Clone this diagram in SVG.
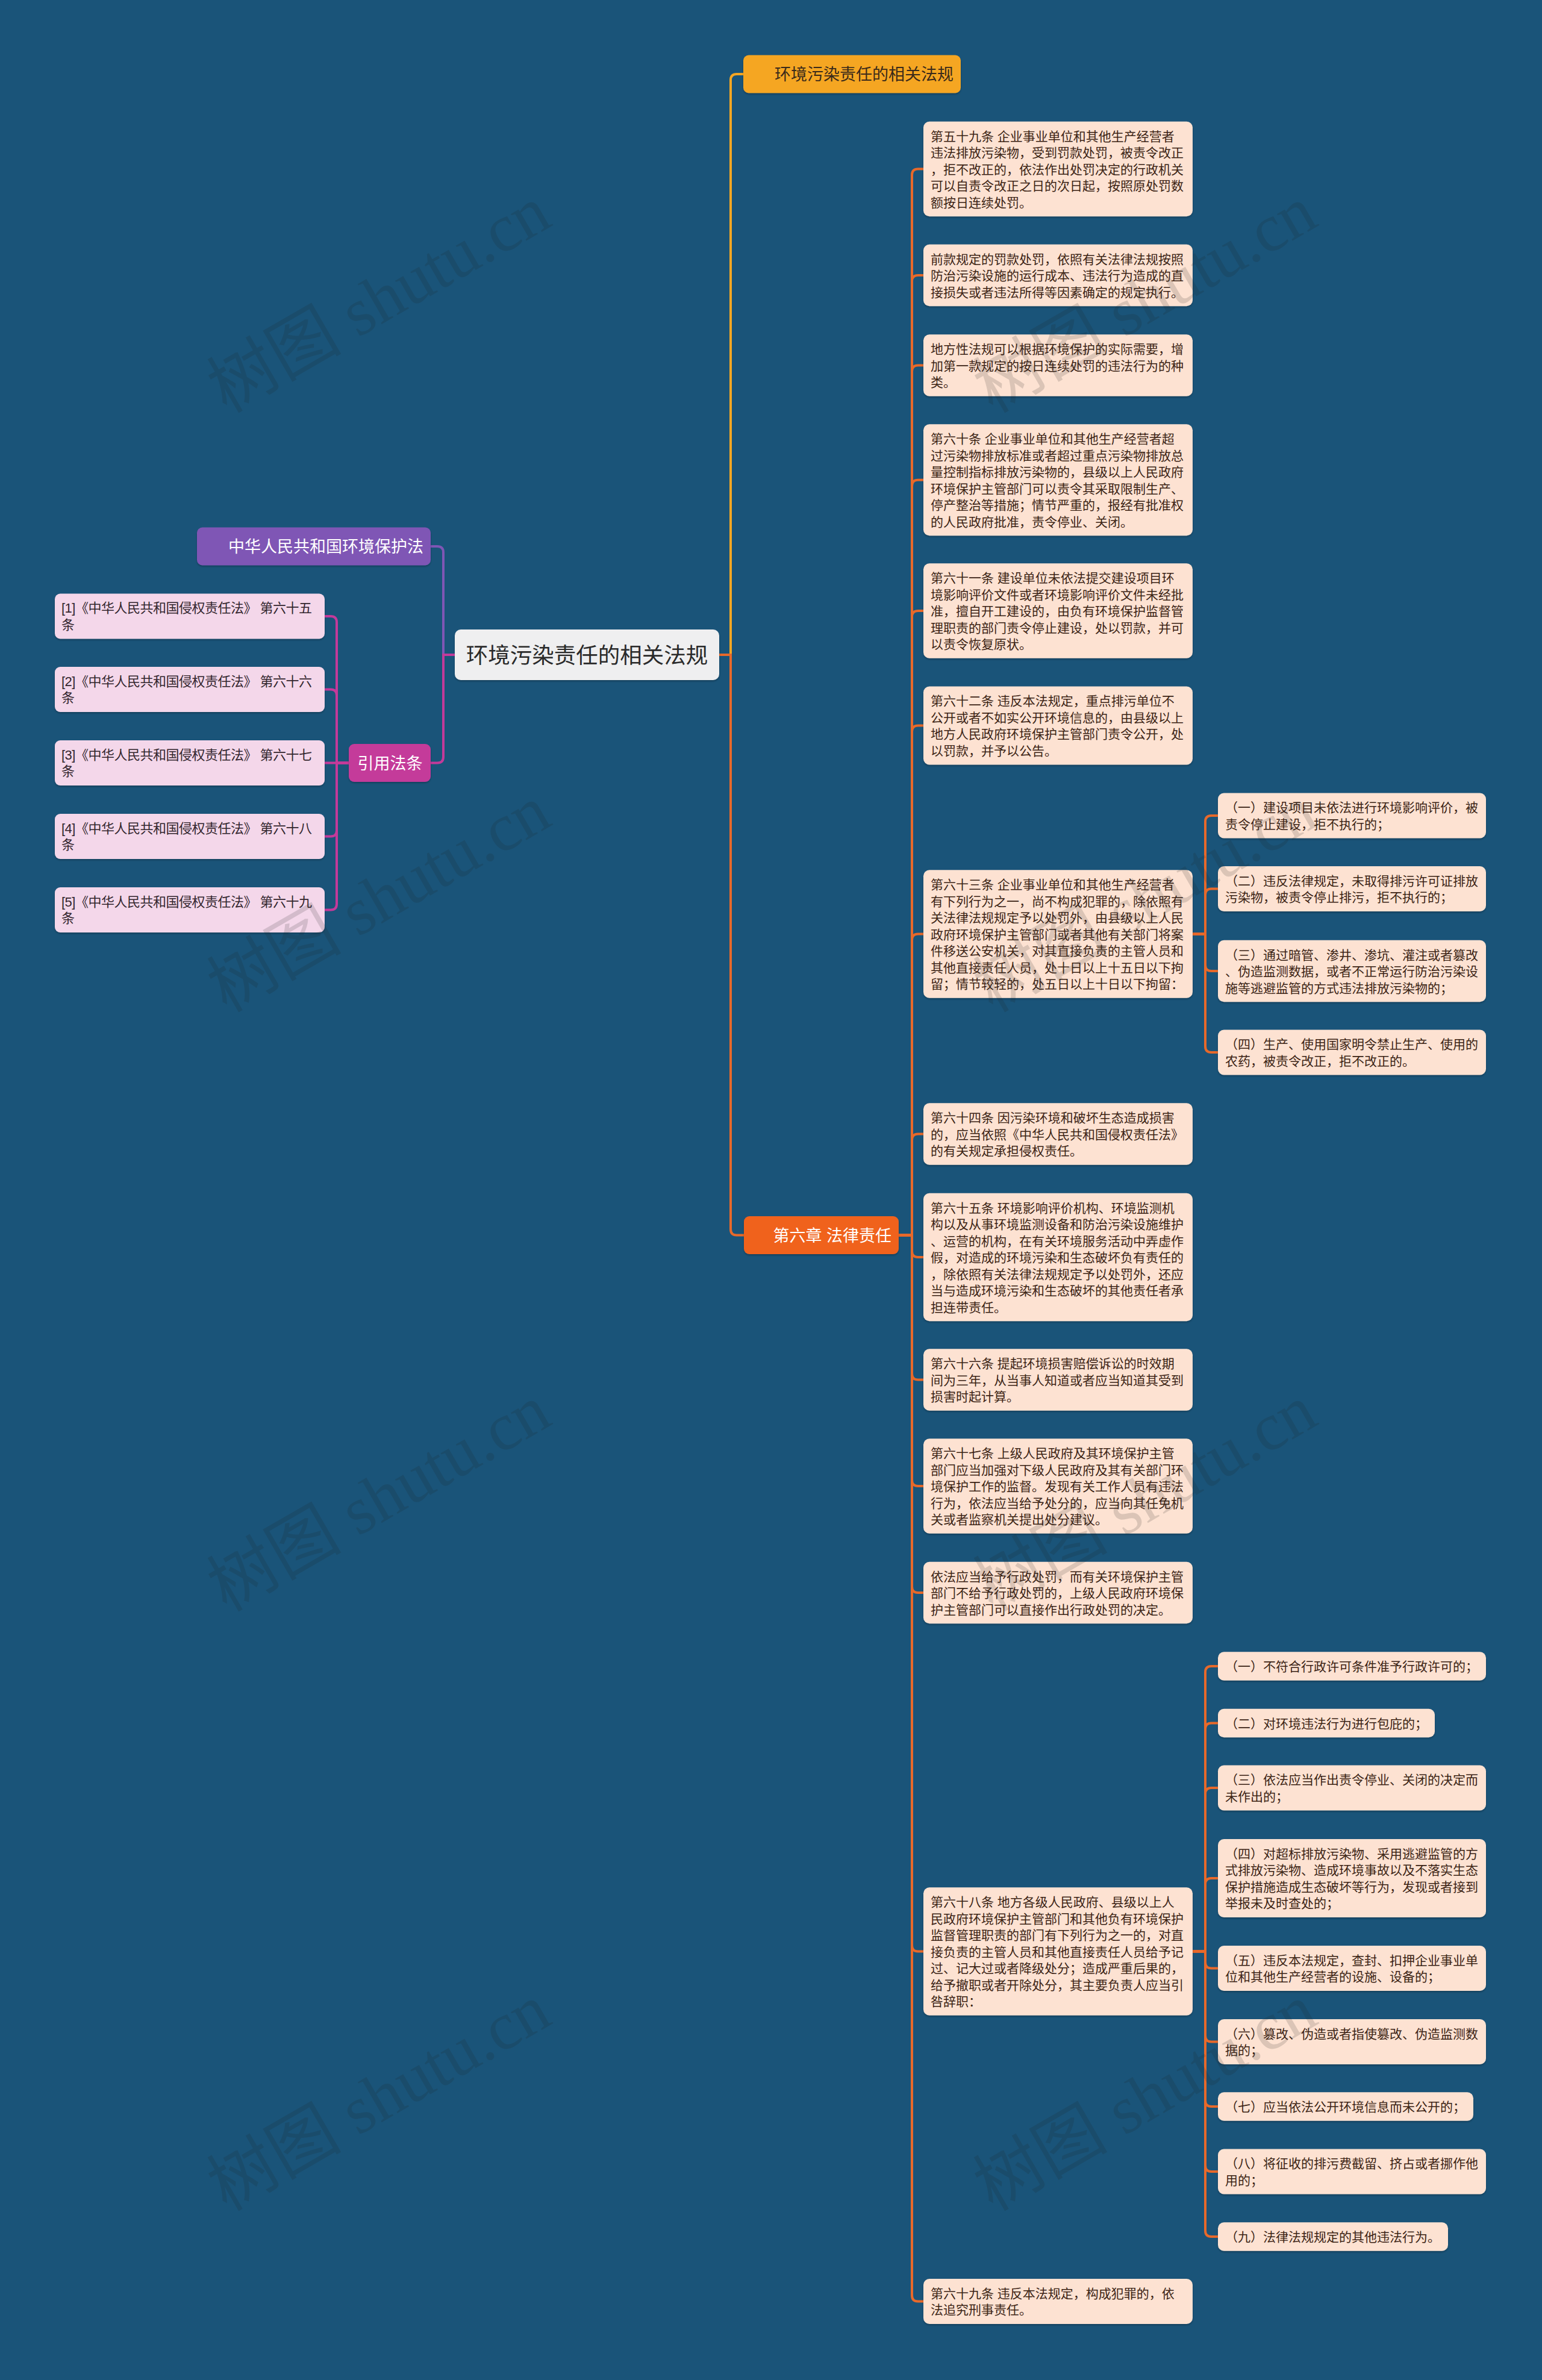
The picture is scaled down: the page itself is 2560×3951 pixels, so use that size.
<svg xmlns="http://www.w3.org/2000/svg" width="2560" height="3951" viewBox="0 0 2560 3951">
<defs>
<filter id="sh" x="-5%" y="-10%" width="110%" height="130%"><feDropShadow dx="0" dy="2" stdDeviation="1.5" flood-color="#000" flood-opacity="0.25"/></filter>
<style>
.f{font-family:"Liberation Sans","Noto Sans CJK SC",sans-serif}
.bx{fill:#fde2d2;filter:url(#sh)}
.it{fill:#f4d7ea;filter:url(#sh)}
.t{font-size:21px;fill:#3c2415}
.ti{font-size:22px;fill:#33262e}
.lo{fill:none;stroke:#e8692a;stroke-width:4}
.ly{fill:none;stroke:#f5a623;stroke-width:4}
.lp{fill:none;stroke:#7f56b5;stroke-width:4}
.lm{fill:none;stroke:#c43a9a;stroke-width:4}
.wm{font-family:"Liberation Serif","Noto Sans CJK SC",serif;font-size:112px;fill:#202020;opacity:0.15}
</style>
</defs>
<rect x="0" y="0" width="2560" height="3951" fill="#1a5479"/>

<g id="connectors">
<path class="ly" d="M1194 1087 H1213 V133 Q1213 123 1223 123 H1234"/>
<path class="lo" d="M1194 1087 H1213 V2040.5 Q1213 2050.5 1223 2050.5 H1235"/>
<path class="lp" d="M755 1087 H736 V917 Q736 907 726 907 H715"/>
<path class="lm" d="M755 1087 H736 V1256.5 Q736 1266.5 726 1266.5 H715"/>
<path class="lm" d="M579 1266.5 H559 V1033 Q559 1023 549 1023 H539"/>
<path class="lm" d="M579 1266.5 H559 V1154.5 Q559 1144.5 549 1144.5 H539"/>
<path class="lm" d="M579 1266.5 H539"/>
<path class="lm" d="M579 1266.5 H559 V1378.5 Q559 1388.5 549 1388.5 H539"/>
<path class="lm" d="M579 1266.5 H559 V1500.5 Q559 1510.5 549 1510.5 H539"/>
<path class="lo" d="M1492 2050.5 H1514 V290.5 Q1514 280.5 1524 280.5 H1533"/>
<path class="lo" d="M1492 2050.5 H1514 V467 Q1514 457 1524 457 H1533"/>
<path class="lo" d="M1492 2050.5 H1514 V616.5 Q1514 606.5 1524 606.5 H1533"/>
<path class="lo" d="M1492 2050.5 H1514 V806.7 Q1514 796.7 1524 796.7 H1533"/>
<path class="lo" d="M1492 2050.5 H1514 V1024 Q1514 1014 1524 1014 H1533"/>
<path class="lo" d="M1492 2050.5 H1514 V1214.5 Q1514 1204.5 1524 1204.5 H1533"/>
<path class="lo" d="M1492 2050.5 H1514 V1560.5 Q1514 1550.5 1524 1550.5 H1533"/>
<path class="lo" d="M1492 2050.5 H1514 V1892.5 Q1514 1882.5 1524 1882.5 H1533"/>
<path class="lo" d="M1492 2050.5 H1514 V2077 Q1514 2087 1524 2087 H1533"/>
<path class="lo" d="M1492 2050.5 H1514 V2280.5 Q1514 2290.5 1524 2290.5 H1533"/>
<path class="lo" d="M1492 2050.5 H1514 V2457 Q1514 2467 1524 2467 H1533"/>
<path class="lo" d="M1492 2050.5 H1514 V2634 Q1514 2644 1524 2644 H1533"/>
<path class="lo" d="M1492 2050.5 H1514 V3229.5 Q1514 3239.5 1524 3239.5 H1533"/>
<path class="lo" d="M1492 2050.5 H1514 V3810.5 Q1514 3820.5 1524 3820.5 H1533"/>
<path class="lo" d="M1980 1550.5 H2001 V1364 Q2001 1354 2011 1354 H2022"/>
<path class="lo" d="M1980 1550.5 H2001 V1485.5 Q2001 1475.5 2011 1475.5 H2022"/>
<path class="lo" d="M1980 1550.5 H2001 V1602 Q2001 1612 2011 1612 H2022"/>
<path class="lo" d="M1980 1550.5 H2001 V1737 Q2001 1747 2011 1747 H2022"/>
<path class="lo" d="M1980 3239.5 H2001 V2776 Q2001 2766 2011 2766 H2022"/>
<path class="lo" d="M1980 3239.5 H2001 V2870.5 Q2001 2860.5 2011 2860.5 H2022"/>
<path class="lo" d="M1980 3239.5 H2001 V2978 Q2001 2968 2011 2968 H2022"/>
<path class="lo" d="M1980 3239.5 H2001 V3128 Q2001 3118 2011 3118 H2022"/>
<path class="lo" d="M1980 3239.5 H2001 V3257.5 Q2001 3267.5 2011 3267.5 H2022"/>
<path class="lo" d="M1980 3239.5 H2001 V3379.5 Q2001 3389.5 2011 3389.5 H2022"/>
<path class="lo" d="M1980 3239.5 H2001 V3487 Q2001 3497 2011 3497 H2022"/>
<path class="lo" d="M1980 3239.5 H2001 V3595 Q2001 3605 2011 3605 H2022"/>
<path class="lo" d="M1980 3239.5 H2001 V3703 Q2001 3713 2011 3713 H2022"/>
</g>

<g id="root">
<rect x="755" y="1045" width="439" height="84" rx="10" fill="#efeff0" filter="url(#sh)"/>
<text class="f" x="974.5" y="1100.5" font-size="36.5" fill="#2a2a2a" text-anchor="middle">环境污染责任的相关法规</text>
</g>

<g id="n-top">
<rect x="1234" y="91.5" width="361" height="63" rx="9" fill="#f5a623" filter="url(#sh)"/>
<text class="f" x="1583" y="133" font-size="27" fill="#3a2a1a" text-anchor="end">环境污染责任的相关法规</text>
</g>

<g id="n-ch6">
<rect x="1235" y="2019" width="257" height="63" rx="9" fill="#f0621f" filter="url(#sh)"/>
<text class="f" x="1480" y="2060.5" font-size="27" fill="#ffffff" text-anchor="end">第六章 法律责任</text>
</g>

<g id="n-law">
<rect x="327" y="875.5" width="388" height="63" rx="9" fill="#7f56b5" filter="url(#sh)"/>
<text class="f" x="703" y="917" font-size="27" fill="#ffffff" text-anchor="end">中华人民共和国环境保护法</text>
</g>

<g id="n-cite">
<rect x="579" y="1235" width="136" height="63" rx="9" fill="#c43a9a" filter="url(#sh)"/>
<text class="f" x="647.5" y="1276.5" font-size="27" fill="#ffffff" text-anchor="middle">引用法条</text>
</g>

<g id="cite-1">
<rect class="it" x="91" y="985.5" width="448" height="75" rx="9"/>
<text class="f ti" x="102" y="1017.25"><tspan x="102" textLength="416" lengthAdjust="spacing">[1]《中华人民共和国侵权责任法》 第六十五</tspan><tspan x="102" dy="27.5">条</tspan></text>
</g>
<g id="cite-2">
<rect class="it" x="91" y="1107" width="448" height="75" rx="9"/>
<text class="f ti" x="102" y="1138.75"><tspan x="102" textLength="416" lengthAdjust="spacing">[2]《中华人民共和国侵权责任法》 第六十六</tspan><tspan x="102" dy="27.5">条</tspan></text>
</g>
<g id="cite-3">
<rect class="it" x="91" y="1229" width="448" height="75" rx="9"/>
<text class="f ti" x="102" y="1260.75"><tspan x="102" textLength="416" lengthAdjust="spacing">[3]《中华人民共和国侵权责任法》 第六十七</tspan><tspan x="102" dy="27.5">条</tspan></text>
</g>
<g id="cite-4">
<rect class="it" x="91" y="1351" width="448" height="75" rx="9"/>
<text class="f ti" x="102" y="1382.75"><tspan x="102" textLength="416" lengthAdjust="spacing">[4]《中华人民共和国侵权责任法》 第六十八</tspan><tspan x="102" dy="27.5">条</tspan></text>
</g>
<g id="cite-5">
<rect class="it" x="91" y="1473" width="448" height="75" rx="9"/>
<text class="f ti" x="102" y="1504.75"><tspan x="102" textLength="416" lengthAdjust="spacing">[5]《中华人民共和国侵权责任法》 第六十九</tspan><tspan x="102" dy="27.5">条</tspan></text>
</g>

<g id="a59">
<rect class="bx" x="1533" y="201.75" width="447" height="157.5" rx="10"/>
<text class="f t" x="1545" y="233.5"><tspan x="1545">第五十九条 企业事业单位和其他生产经营者</tspan><tspan x="1545" dy="27.5">违法排放污染物，受到罚款处罚，被责令改正</tspan><tspan x="1545" dy="27.5">，拒不改正的，依法作出处罚决定的行政机关</tspan><tspan x="1545" dy="27.5">可以自责令改正之日的次日起，按照原处罚数</tspan><tspan x="1545" dy="27.5">额按日连续处罚。</tspan></text>
</g>
<g id="a59-2">
<rect class="bx" x="1533" y="405.75" width="447" height="102.5" rx="10"/>
<text class="f t" x="1545" y="437.5"><tspan x="1545">前款规定的罚款处罚，依照有关法律法规按照</tspan><tspan x="1545" dy="27.5">防治污染设施的运行成本、违法行为造成的直</tspan><tspan x="1545" dy="27.5">接损失或者违法所得等因素确定的规定执行。</tspan></text>
</g>
<g id="a59-3">
<rect class="bx" x="1533" y="555.25" width="447" height="102.5" rx="10"/>
<text class="f t" x="1545" y="587"><tspan x="1545">地方性法规可以根据环境保护的实际需要，增</tspan><tspan x="1545" dy="27.5">加第一款规定的按日连续处罚的违法行为的种</tspan><tspan x="1545" dy="27.5">类。</tspan></text>
</g>
<g id="a60">
<rect class="bx" x="1533" y="704.2" width="447" height="185" rx="10"/>
<text class="f t" x="1545" y="736"><tspan x="1545">第六十条 企业事业单位和其他生产经营者超</tspan><tspan x="1545" dy="27.5">过污染物排放标准或者超过重点污染物排放总</tspan><tspan x="1545" dy="27.5">量控制指标排放污染物的，县级以上人民政府</tspan><tspan x="1545" dy="27.5">环境保护主管部门可以责令其采取限制生产、</tspan><tspan x="1545" dy="27.5">停产整治等措施；情节严重的，报经有批准权</tspan><tspan x="1545" dy="27.5">的人民政府批准，责令停业、关闭。</tspan></text>
</g>
<g id="a61">
<rect class="bx" x="1533" y="935.25" width="447" height="157.5" rx="10"/>
<text class="f t" x="1545" y="967"><tspan x="1545">第六十一条 建设单位未依法提交建设项目环</tspan><tspan x="1545" dy="27.5">境影响评价文件或者环境影响评价文件未经批</tspan><tspan x="1545" dy="27.5">准，擅自开工建设的，由负有环境保护监督管</tspan><tspan x="1545" dy="27.5">理职责的部门责令停止建设，处以罚款，并可</tspan><tspan x="1545" dy="27.5">以责令恢复原状。</tspan></text>
</g>
<g id="a62">
<rect class="bx" x="1533" y="1139.5" width="447" height="130" rx="10"/>
<text class="f t" x="1545" y="1171.25"><tspan x="1545">第六十二条 违反本法规定，重点排污单位不</tspan><tspan x="1545" dy="27.5">公开或者不如实公开环境信息的，由县级以上</tspan><tspan x="1545" dy="27.5">地方人民政府环境保护主管部门责令公开，处</tspan><tspan x="1545" dy="27.5">以罚款，并予以公告。</tspan></text>
</g>
<g id="a63">
<rect class="bx" x="1533" y="1444.25" width="447" height="212.5" rx="10"/>
<text class="f t" x="1545" y="1476"><tspan x="1545">第六十三条 企业事业单位和其他生产经营者</tspan><tspan x="1545" dy="27.5">有下列行为之一，尚不构成犯罪的，除依照有</tspan><tspan x="1545" dy="27.5">关法律法规规定予以处罚外，由县级以上人民</tspan><tspan x="1545" dy="27.5">政府环境保护主管部门或者其他有关部门将案</tspan><tspan x="1545" dy="27.5">件移送公安机关，对其直接负责的主管人员和</tspan><tspan x="1545" dy="27.5">其他直接责任人员，处十日以上十五日以下拘</tspan><tspan x="1545" dy="27.5">留；情节较轻的，处五日以上十日以下拘留：</tspan></text>
</g>
<g id="a63-1">
<rect class="bx" x="2022" y="1316.5" width="445" height="75" rx="10"/>
<text class="f t" x="2034" y="1348.25"><tspan x="2034">（一）建设项目未依法进行环境影响评价，被</tspan><tspan x="2034" dy="27.5">责令停止建设，拒不执行的；</tspan></text>
</g>
<g id="a63-2">
<rect class="bx" x="2022" y="1438" width="445" height="75" rx="10"/>
<text class="f t" x="2034" y="1469.75"><tspan x="2034">（二）违反法律规定，未取得排污许可证排放</tspan><tspan x="2034" dy="27.5">污染物，被责令停止排污，拒不执行的；</tspan></text>
</g>
<g id="a63-3">
<rect class="bx" x="2022" y="1560.75" width="445" height="102.5" rx="10"/>
<text class="f t" x="2034" y="1592.5"><tspan x="2034">（三）通过暗管、渗井、渗坑、灌注或者篡改</tspan><tspan x="2034" dy="27.5">、伪造监测数据，或者不正常运行防治污染设</tspan><tspan x="2034" dy="27.5">施等逃避监管的方式违法排放污染物的；</tspan></text>
</g>
<g id="a63-4">
<rect class="bx" x="2022" y="1709.5" width="445" height="75" rx="10"/>
<text class="f t" x="2034" y="1741.25"><tspan x="2034">（四）生产、使用国家明令禁止生产、使用的</tspan><tspan x="2034" dy="27.5">农药，被责令改正，拒不改正的。</tspan></text>
</g>
<g id="a64">
<rect class="bx" x="1533" y="1831.25" width="447" height="102.5" rx="10"/>
<text class="f t" x="1545" y="1863"><tspan x="1545">第六十四条 因污染环境和破坏生态造成损害</tspan><tspan x="1545" dy="27.5">的，应当依照《中华人民共和国侵权责任法》</tspan><tspan x="1545" dy="27.5">的有关规定承担侵权责任。</tspan></text>
</g>
<g id="a65">
<rect class="bx" x="1533" y="1980.75" width="447" height="212.5" rx="10"/>
<text class="f t" x="1545" y="2012.5"><tspan x="1545">第六十五条 环境影响评价机构、环境监测机</tspan><tspan x="1545" dy="27.5">构以及从事环境监测设备和防治污染设施维护</tspan><tspan x="1545" dy="27.5">、运营的机构，在有关环境服务活动中弄虚作</tspan><tspan x="1545" dy="27.5">假，对造成的环境污染和生态破坏负有责任的</tspan><tspan x="1545" dy="27.5">，除依照有关法律法规规定予以处罚外，还应</tspan><tspan x="1545" dy="27.5">当与造成环境污染和生态破坏的其他责任者承</tspan><tspan x="1545" dy="27.5">担连带责任。</tspan></text>
</g>
<g id="a66">
<rect class="bx" x="1533" y="2239.25" width="447" height="102.5" rx="10"/>
<text class="f t" x="1545" y="2271"><tspan x="1545">第六十六条 提起环境损害赔偿诉讼的时效期</tspan><tspan x="1545" dy="27.5">间为三年，从当事人知道或者应当知道其受到</tspan><tspan x="1545" dy="27.5">损害时起计算。</tspan></text>
</g>
<g id="a67">
<rect class="bx" x="1533" y="2388.25" width="447" height="157.5" rx="10"/>
<text class="f t" x="1545" y="2420"><tspan x="1545">第六十七条 上级人民政府及其环境保护主管</tspan><tspan x="1545" dy="27.5">部门应当加强对下级人民政府及其有关部门环</tspan><tspan x="1545" dy="27.5">境保护工作的监督。发现有关工作人员有违法</tspan><tspan x="1545" dy="27.5">行为，依法应当给予处分的，应当向其任免机</tspan><tspan x="1545" dy="27.5">关或者监察机关提出处分建议。</tspan></text>
</g>
<g id="a67-2">
<rect class="bx" x="1533" y="2592.75" width="447" height="102.5" rx="10"/>
<text class="f t" x="1545" y="2624.5"><tspan x="1545">依法应当给予行政处罚，而有关环境保护主管</tspan><tspan x="1545" dy="27.5">部门不给予行政处罚的，上级人民政府环境保</tspan><tspan x="1545" dy="27.5">护主管部门可以直接作出行政处罚的决定。</tspan></text>
</g>
<g id="a68">
<rect class="bx" x="1533" y="3133.25" width="447" height="212.5" rx="10"/>
<text class="f t" x="1545" y="3165"><tspan x="1545">第六十八条 地方各级人民政府、县级以上人</tspan><tspan x="1545" dy="27.5">民政府环境保护主管部门和其他负有环境保护</tspan><tspan x="1545" dy="27.5">监督管理职责的部门有下列行为之一的，对直</tspan><tspan x="1545" dy="27.5">接负责的主管人员和其他直接责任人员给予记</tspan><tspan x="1545" dy="27.5">过、记大过或者降级处分；造成严重后果的，</tspan><tspan x="1545" dy="27.5">给予撤职或者开除处分，其主要负责人应当引</tspan><tspan x="1545" dy="27.5">咎辞职：</tspan></text>
</g>
<g id="a68-1">
<rect class="bx" x="2022" y="2742.25" width="445" height="47.5" rx="10"/>
<text class="f t" x="2034" y="2774">（一）不符合行政许可条件准予行政许可的；</text>
</g>
<g id="a68-2">
<rect class="bx" x="2022" y="2836.75" width="360" height="47.5" rx="10"/>
<text class="f t" x="2034" y="2868.5">（二）对环境违法行为进行包庇的；</text>
</g>
<g id="a68-3">
<rect class="bx" x="2022" y="2930.5" width="445" height="75" rx="10"/>
<text class="f t" x="2034" y="2962.25"><tspan x="2034">（三）依法应当作出责令停业、关闭的决定而</tspan><tspan x="2034" dy="27.5">未作出的；</tspan></text>
</g>
<g id="a68-4">
<rect class="bx" x="2022" y="3053" width="445" height="130" rx="10"/>
<text class="f t" x="2034" y="3084.75"><tspan x="2034">（四）对超标排放污染物、采用逃避监管的方</tspan><tspan x="2034" dy="27.5">式排放污染物、造成环境事故以及不落实生态</tspan><tspan x="2034" dy="27.5">保护措施造成生态破坏等行为，发现或者接到</tspan><tspan x="2034" dy="27.5">举报未及时查处的；</tspan></text>
</g>
<g id="a68-5">
<rect class="bx" x="2022" y="3230" width="445" height="75" rx="10"/>
<text class="f t" x="2034" y="3261.75"><tspan x="2034">（五）违反本法规定，查封、扣押企业事业单</tspan><tspan x="2034" dy="27.5">位和其他生产经营者的设施、设备的；</tspan></text>
</g>
<g id="a68-6">
<rect class="bx" x="2022" y="3352" width="445" height="75" rx="10"/>
<text class="f t" x="2034" y="3383.75"><tspan x="2034">（六）篡改、伪造或者指使篡改、伪造监测数</tspan><tspan x="2034" dy="27.5">据的；</tspan></text>
</g>
<g id="a68-7">
<rect class="bx" x="2022" y="3473.25" width="424" height="47.5" rx="10"/>
<text class="f t" x="2034" y="3505">（七）应当依法公开环境信息而未公开的；</text>
</g>
<g id="a68-8">
<rect class="bx" x="2022" y="3567.5" width="445" height="75" rx="10"/>
<text class="f t" x="2034" y="3599.25"><tspan x="2034">（八）将征收的排污费截留、挤占或者挪作他</tspan><tspan x="2034" dy="27.5">用的；</tspan></text>
</g>
<g id="a68-9">
<rect class="bx" x="2022" y="3689.25" width="382" height="47.5" rx="10"/>
<text class="f t" x="2034" y="3721">（九）法律法规规定的其他违法行为。</text>
</g>
<g id="a69">
<rect class="bx" x="1533" y="3783" width="447" height="75" rx="10"/>
<text class="f t" x="1545" y="3814.75"><tspan x="1545">第六十九条 违反本法规定，构成犯罪的，依</tspan><tspan x="1545" dy="27.5">法追究刑事责任。</tspan></text>
</g>

<g id="watermarks">
<text class="wm" x="648" y="530" text-anchor="middle" transform="rotate(-30 648 530)">树图 shutu.cn</text>
<text class="wm" x="1920" y="530" text-anchor="middle" transform="rotate(-30 1920 530)">树图 shutu.cn</text>
<text class="wm" x="648" y="1525" text-anchor="middle" transform="rotate(-30 648 1525)">树图 shutu.cn</text>
<text class="wm" x="1920" y="1525" text-anchor="middle" transform="rotate(-30 1920 1525)">树图 shutu.cn</text>
<text class="wm" x="648" y="2520" text-anchor="middle" transform="rotate(-30 648 2520)">树图 shutu.cn</text>
<text class="wm" x="1920" y="2520" text-anchor="middle" transform="rotate(-30 1920 2520)">树图 shutu.cn</text>
<text class="wm" x="648" y="3515" text-anchor="middle" transform="rotate(-30 648 3515)">树图 shutu.cn</text>
<text class="wm" x="1920" y="3515" text-anchor="middle" transform="rotate(-30 1920 3515)">树图 shutu.cn</text>
</g>
</svg>
